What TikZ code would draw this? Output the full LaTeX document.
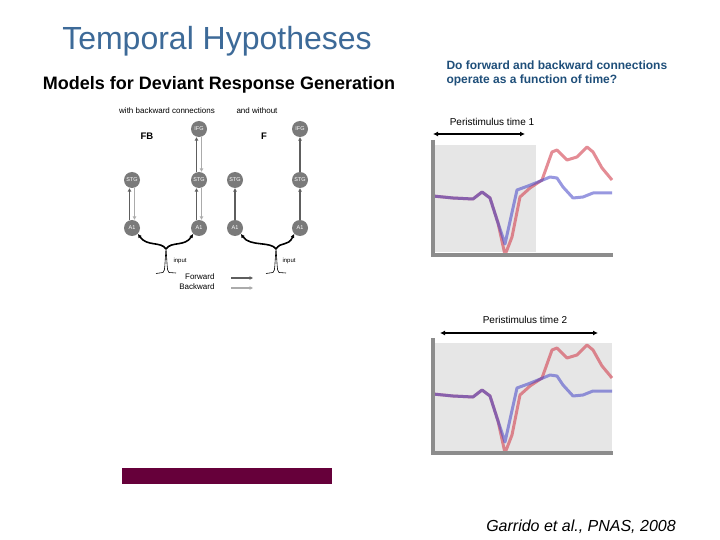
\documentclass[tikz,border=0pt]{standalone}
\usepackage{fontspec}
\setmainfont{Liberation Sans}
\usepackage{xcolor}
\usetikzlibrary{arrows.meta,calc,positioning}
\definecolor{titleblue}{HTML}{3D6A98}
\definecolor{questionblue}{HTML}{1F4F7A}
\definecolor{nodegray}{HTML}{7A7A7A}
\definecolor{fwdgray}{HTML}{5E5E5E}
\definecolor{bwdgray}{HTML}{ABABAB}
\definecolor{axisgray}{HTML}{8C8C8C}
\definecolor{shadegray}{HTML}{E6E6E6}
\definecolor{respred}{HTML}{D2404F}
\definecolor{respblue}{HTML}{4545C8}
\definecolor{barmaroon}{HTML}{66003A}

\begin{document}
\begin{tikzpicture}[x=1pt, y=-1pt, >=Latex, font=\fontsize{8}{9}\selectfont]
  \tikzset{region/.style={circle, fill=nodegray, text=white, inner sep=0pt, minimum size=16pt, font=\fontsize{5.5}{6}\selectfont},
    fwd/.style={draw=fwdgray, line width=1.4pt, -{Triangle[open, length=3.5pt, width=3.5pt]}},
    bwd/.style={draw=bwdgray, line width=1.4pt, -{Triangle[open, length=3.5pt, width=3.5pt]}},
    inarr/.style={draw=black, line width=1.6pt, -{Latex[length=4pt, width=4pt]}},
    spike/.style={draw=black, line width=0.6pt, line join=round},
    axisbar/.style={draw=axisgray, line width=3.5pt},
    redresp/.style={draw=respred, opacity=0.6, line width=3pt, line join=round},
    blueresp/.style={draw=respblue, opacity=0.55, line width=3pt, line join=round},
    span/.style={<->, line width=1.6pt, >={Latex[length=5pt, width=5pt]}}}
  \useasboundingbox[fill=white] (0,0) rectangle (720,540);

  % headings
  \node[text=titleblue, font=\fontsize{32}{36}\selectfont] (title) at (217,41) {Temporal Hypotheses};
  \node[font=\bfseries\fontsize{18}{20}\selectfont] (models) at (219,85) {Models for Deviant Response Generation};
  \node[text=questionblue, font=\bfseries\fontsize{12}{14}\selectfont, align=left, anchor=west] (question) at (443,73) {Do forward and backward connections\\operate as a function of time?};

  % network models
  \node (withfb) at (167,111) {with backward connections};
  \node (without) at (257,111) {and without};
  \node[font=\bfseries\fontsize{9.5}{11}\selectfont] (fb) at (147,136) {FB};
  \node[font=\bfseries\fontsize{9.5}{11}\selectfont] (f) at (264,136) {F};

  \node[region] (ifgb) at (199,129) {IFG};
  \node[region] (stgbl) at (132,180) {STG};
  \node[region] (stgbr) at (199,180) {STG};
  \node[region] (aonebl) at (132,228) {A1};
  \node[region] (aonebr) at (199,228) {A1};
  \node[region] (ifgf) at (300,129) {IFG};
  \node[region] (stgfl) at (235,180) {STG};
  \node[region] (stgfr) at (300,180) {STG};
  \node[region] (aonefl) at (235,228) {A1};
  \node[region] (aonefr) at (300,228) {A1};

  \draw[fwd] ([xshift=-2.5pt]aonebl.north) -- ([xshift=-2.5pt]stgbl.south);
  \draw[bwd] ([xshift=2.5pt]stgbl.south) -- ([xshift=2.5pt]aonebl.north);
  \draw[fwd] ([xshift=-2.5pt]aonebr.north) -- ([xshift=-2.5pt]stgbr.south);
  \draw[bwd] ([xshift=2.5pt]stgbr.south) -- ([xshift=2.5pt]aonebr.north);
  \draw[fwd] ([xshift=-2.5pt]stgbr.north) -- ([xshift=-2.5pt]ifgb.south);
  \draw[bwd] ([xshift=2.5pt]ifgb.south) -- ([xshift=2.5pt]stgbr.north);
  \draw[fwd] (aonefl) -- (stgfl);
  \draw[fwd] (aonefr) -- (stgfr);
  \draw[fwd] (stgfr) -- (ifgf);

  % inputs
  \coordinate (inb) at (166,249);
  \coordinate (inf) at (276,249);
  \draw[inarr] (inb) .. controls (161,241) and (147,247) .. (aonebl.south east);
  \draw[inarr] (inb) .. controls (171,241) and (185,247) .. (aonebr.south west);
  \draw[inarr] (inf) .. controls (271,241) and (250,247) .. (aonefl.south east);
  \draw[inarr] (inf) .. controls (281,241) and (288,247) .. (aonefr.south west);
  \foreach \sx in {166,276}
    \draw[spike] (\sx-10,273.5) -- (\sx-3,272.5) .. controls (\sx-1.5,271) .. (\sx-0.8,260) -- (\sx,248) -- (\sx+0.8,260) .. controls (\sx+1.5,271) .. (\sx+3,272.5) -- (\sx+10,273);
  \node[anchor=west, font=\fontsize{6}{7}\selectfont] (inputb) at (170,261) {input};
  \node[anchor=west, font=\fontsize{6}{7}\selectfont] (inputf) at (279,261) {input};

  % legend
  \node[anchor=east] (fwdlabel) at (218,277) {Forward};
  \node[anchor=east] (bwdlabel) at (218,287) {Backward};
  \coordinate (fwdend) at (253,278);
  \coordinate (bwdend) at (253,288);
  \draw[fwd, line width=2pt] (231,278) -- (fwdend);
  \draw[bwd, line width=2pt] (231,288) -- (bwdend);

  % maroon bar
  \fill[barmaroon] (122,468) rectangle (332,484);

  % responses
  \fill[shadegray] (435,145) rectangle (536,252);
  \fill[shadegray] (435,343) rectangle (612,452);
  \foreach \dy in {0,198} {
    \begin{scope}[yshift=-\dy pt]
      \draw[redresp] plot coordinates {(433,196) (453,198) (473,199) (482,192) (490,198) (498,223) (505,255) (512,237) (520,197) (530,188) (542,180) (552,152) (557,150) (567,160) (577,157) (587,147) (593,152) (602,168) (612,180)};
      \draw[blueresp] plot coordinates {(433,196) (453,198) (473,199) (482,192) (490,198) (498,223) (505,244) (517,190) (528,186) (538,182) (550,177) (557,178) (563,187) (573,198) (583,197) (593,193) (612,193)};
      \draw[axisbar] (433,140) -- (433,255) -- (613,255);
    \end{scope}
  }
  \coordinate (spanonel) at (433,134);
  \coordinate (spanoner) at (525,134);
  \coordinate (spantwol) at (440,333);
  \coordinate (spantwor) at (598,333);
  \draw[span] (spanonel) -- (spanoner);
  \draw[span] (spantwol) -- (spantwor);
  \node[font=\fontsize{10}{12}\selectfont] (ptone) at (492,122) {Peristimulus time 1};
  \node[font=\fontsize{10}{12}\selectfont] (pttwo) at (525,320) {Peristimulus time 2};

  % reference
  \node[font=\itshape\fontsize{16}{18}\selectfont] (cite) at (581,527) {Garrido et al., PNAS, 2008};
\end{tikzpicture}
\end{document}
